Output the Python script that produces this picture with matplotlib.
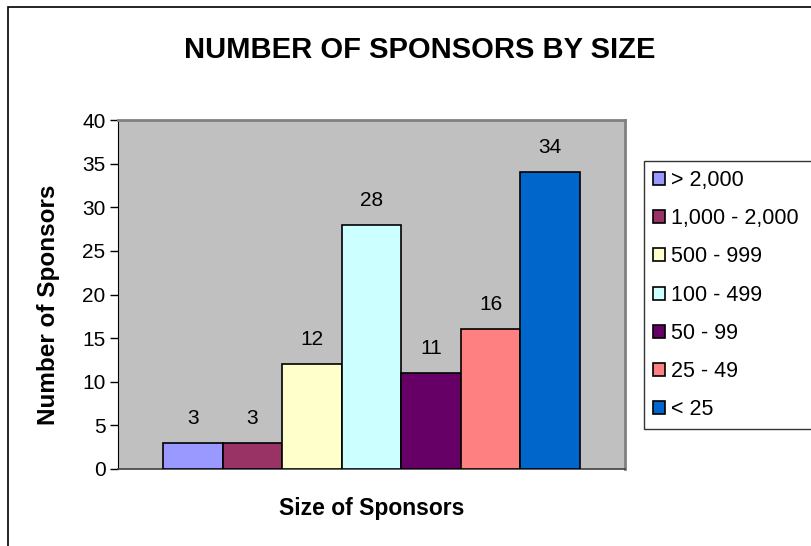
import matplotlib
import matplotlib.pyplot as plt
from matplotlib.patches import Rectangle
import numpy as np

matplotlib.use("Agg")

# Chart data
size_labels = ["> 2,000", "1,000 - 2,000", "500 - 999", "100 - 499", "50 - 99", "25 - 49", "< 25"]
sponsor_counts = [3, 3, 12, 28, 11, 16, 34]
bar_colors = ["#9999FF", "#993366", "#FFFFCC", "#CCFFFF", "#660066", "#FF8080", "#0066CC"]
y_ticks = [0, 5, 10, 15, 20, 25, 30, 35, 40]

plt.rcParams["font.family"] = ["Liberation Sans", "DejaVu Sans"]

fig = plt.figure(figsize=(8.11, 5.46), dpi=100)
W, H = 811, 546

# Plot area in pixel coords from the reference
left, right, top, bottom = 118, 625, 120, 469
ax = fig.add_axes([left / W, 1 - bottom / H, (right - left) / W, (bottom - top) / H])
ax.set_facecolor("#C0C0C0")

x = np.arange(len(sponsor_counts))
for i, (lab, val, col) in enumerate(zip(size_labels, sponsor_counts, bar_colors)):
    ax.bar(x[i], val, width=1.0, color=col, edgecolor="black", linewidth=1.2, label=lab, zorder=3)
    ax.text(x[i], val + 2.8, str(val), ha="center", va="center", fontsize=15, color="black")

gap = 0.754
ax.set_xlim(-0.5 - gap, len(sponsor_counts) - 0.5 + gap)
ax.set_ylim(0, 40)
ax.set_yticks(y_ticks)
ax.set_xticks([])
ax.tick_params(axis="y", direction="out", length=6, width=1, labelsize=15, pad=3, colors="black")

for side in ["top", "right"]:
    ax.spines[side].set_color("#808080")
    ax.spines[side].set_linewidth(2)
ax.spines["left"].set_color("black")
ax.spines["bottom"].set_color("#404040")
ax.spines["bottom"].set_linewidth(1.2)

fig.text(49 / W, 1 - 305 / H, "Number of Sponsors", rotation=90, ha="center", va="center",
         fontsize=17.5, fontweight="bold")
fig.text(372 / W, 1 - 508 / H, "Size of Sponsors", ha="center", va="center",
         fontsize=16.5, fontweight="bold")

fig.text(420 / W, 1 - 50 / H, "NUMBER OF SPONSORS BY SIZE", ha="center", va="center",
         fontsize=21, fontweight="bold")

# legend box runs past the right edge of the picture, as in the original
leg = fig.legend(loc="upper left", bbox_to_anchor=(644 / W, 0, 200 / W, 1 - 161 / H),
                 mode="expand", fontsize=15.5,
                 frameon=True, fancybox=False, shadow=False, borderaxespad=0,
                 handlelength=0.55, handleheight=0.55, handletextpad=0.3,
                 labelspacing=0.8, borderpad=0.42)
leg.get_frame().set_edgecolor("black")
leg.get_frame().set_linewidth(1)
for h in leg.legend_handles:
    h.set_linewidth(1.2)

# Outer chart border (runs off the right and bottom edges)
fig.patches.append(Rectangle((8 / W, -0.1), 1.2, 1.1 - 7 / H, transform=fig.transFigure,
                             fill=False, edgecolor="black", linewidth=1.2))

fig.savefig("out.png", dpi=100)
